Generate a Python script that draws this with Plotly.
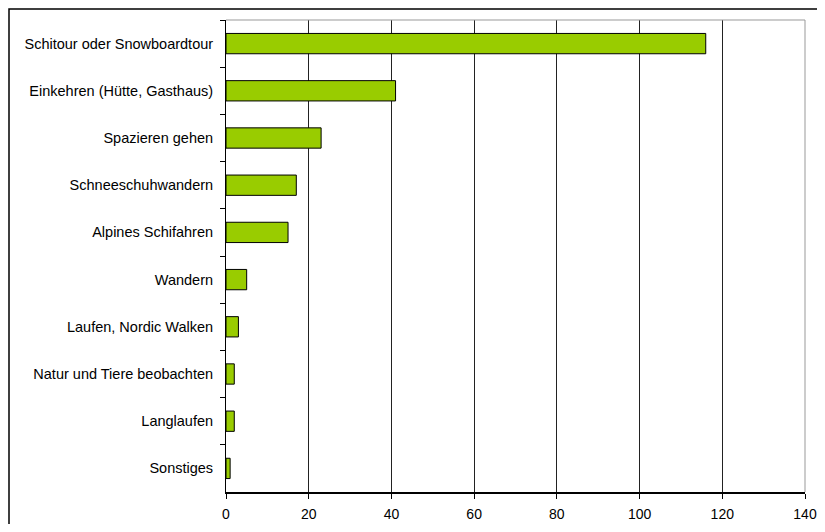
import plotly.graph_objects as go

categories = ["Schitour oder Snowboardtour", "Einkehren (Hütte, Gasthaus)", "Spazieren gehen",
              "Schneeschuhwandern", "Alpines Schifahren", "Wandern", "Laufen, Nordic Walken",
              "Natur und Tiere beobachten", "Langlaufen", "Sonstiges"]
values = [116, 41, 23, 17, 15, 5, 3, 2, 2, 1]
x_ticks = [0, 20, 40, 60, 80, 100, 120, 140]

# page has an 8px body margin all round, so keep the figure inside the window
W, H = 809, 516
ml, mr, mt, mb = 218, 12, 12, 32
pw, ph = W - ml - mr, H - mt - mb

fig = go.Figure()
fig.add_trace(go.Bar(
    x=values, y=categories, orientation="h",
    marker=dict(color="#99CC00", line=dict(color="black", width=1)),
    width=0.43,
))

fig.update_layout(
    width=W, height=H,
    margin=dict(l=ml, r=mr, t=mt, b=mb, autoexpand=False),
    plot_bgcolor="white", paper_bgcolor="white",
    font=dict(family="Liberation Sans, Arial, sans-serif", size=14.5, color="black"),
    showlegend=False,
)
fig.update_xaxes(
    range=[0, 140], tickvals=x_ticks, showgrid=True, gridcolor="#222", gridwidth=1,
    showline=True, linecolor="black", linewidth=2, ticks="outside", ticklen=5,
    tickcolor="black", zeroline=False, tickfont=dict(size=14), automargin=False,
    ticklabelstandoff=3,
)
fig.update_yaxes(
    autorange="reversed", type="category", tickson="boundaries", ticks="outside",
    ticklen=5, tickcolor="black", showline=True, linecolor="black", linewidth=1,
    showgrid=False, ticklabelstandoff=9, automargin=False,
)

# grey plot frame on top and right
fig.add_shape(type="line", xref="paper", yref="paper", x0=0, x1=1, y0=1, y1=1,
              line=dict(color="#999", width=1))
fig.add_shape(type="line", xref="paper", yref="paper", x0=1, x1=1, y0=0, y1=1,
              line=dict(color="#999", width=1))
# outer chart frame (cut off at right and bottom)
fig.add_shape(type="rect", xref="paper", yref="paper",
              x0=(1 - ml) / pw, x1=(W + 20 - ml) / pw,
              y0=-(mb + 20) / ph, y1=1 + (mt - 1) / ph,
              line=dict(color="black", width=1.5), layer="below")

fig.write_html("out.html")
